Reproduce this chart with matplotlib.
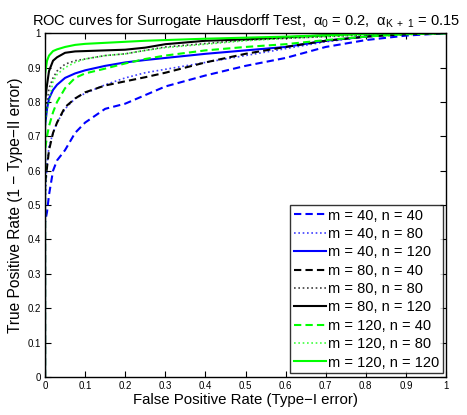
import matplotlib
matplotlib.use("Agg")
import matplotlib.pyplot as plt
import numpy as np

plt.rcParams['font.family'] = ['Liberation Sans', 'DejaVu Sans']
plt.rcParams['mathtext.fontset'] = 'custom'
plt.rcParams['mathtext.rm'] = 'Liberation Sans'
plt.rcParams['mathtext.it'] = 'Liberation Sans'
plt.rcParams['mathtext.bf'] = 'Liberation Sans:bold'

# False positive rate grid shared by all curves
fpr = [0, 0, 0.005, 0.01, 0.02, 0.03, 0.05, 0.075, 0.1, 0.15, 0.2, 0.25,
       0.3, 0.4, 0.5, 0.6, 0.7, 0.8, 0.9, 1.0]

# True positive rates for each (m, n) configuration
tpr_m40_n40 = [0, 0.45, 0.48, 0.53, 0.60, 0.63, 0.66, 0.71, 0.74, 0.78, 0.795, 0.82,
               0.845, 0.877, 0.905, 0.928, 0.96, 0.98, 0.993, 1.0]
tpr_m40_n80 = [0, 0.50, 0.62, 0.67, 0.71, 0.74, 0.78, 0.81, 0.825, 0.85, 0.87, 0.885,
               0.895, 0.915, 0.935, 0.955, 0.975, 0.99, 0.998, 1.0]
tpr_m40_n120 = [0, 0.73, 0.78, 0.81, 0.835, 0.85, 0.87, 0.883, 0.892, 0.905, 0.915, 0.922,
                0.928, 0.94, 0.95, 0.96, 0.978, 0.99, 1.0, 1.0]
tpr_m80_n40 = [0, 0.56, 0.61, 0.66, 0.71, 0.74, 0.785, 0.81, 0.828, 0.848, 0.86, 0.872,
               0.885, 0.915, 0.94, 0.96, 0.978, 0.99, 0.997, 1.0]
tpr_m80_n80 = [0, 0.76, 0.80, 0.84, 0.87, 0.89, 0.91, 0.92, 0.925, 0.935, 0.94, 0.95,
               0.96, 0.97, 0.98, 0.985, 0.99, 0.995, 1.0, 1.0]
tpr_m80_n120 = [0, 0.80, 0.85, 0.89, 0.92, 0.93, 0.943, 0.947, 0.948, 0.95, 0.952, 0.958,
                0.968, 0.978, 0.982, 0.988, 0.994, 1.0, 1.0, 1.0]
tpr_m120_n40 = [0, 0.66, 0.70, 0.73, 0.77, 0.80, 0.84, 0.87, 0.883, 0.897, 0.912, 0.925,
                0.935, 0.95, 0.96, 0.968, 0.98, 0.99, 0.997, 1.0]
tpr_m120_n80 = [0, 0.72, 0.78, 0.80, 0.86, 0.88, 0.90, 0.915, 0.925, 0.935, 0.94, 0.95,
                0.958, 0.968, 0.978, 0.985, 0.99, 0.996, 1.0, 1.0]
tpr_m120_n120 = [0, 0.88, 0.92, 0.935, 0.948, 0.953, 0.96, 0.966, 0.969, 0.972, 0.975, 0.978,
                 0.98, 0.984, 0.987, 0.99, 0.994, 0.998, 1.0, 1.0]

labels = ['m = 40, n = 40', 'm = 40, n = 80', 'm = 40, n = 120',
          'm = 80, n = 40', 'm = 80, n = 80', 'm = 80, n = 120',
          'm = 120, n = 40', 'm = 120, n = 80', 'm = 120, n = 120']
series = [tpr_m40_n40, tpr_m40_n80, tpr_m40_n120,
          tpr_m80_n40, tpr_m80_n80, tpr_m80_n120,
          tpr_m120_n40, tpr_m120_n80, tpr_m120_n120]
colors = ['#0000ff'] * 3 + ['#000000'] * 3 + ['#00ff00'] * 3
styles = ['dashed', 'dotted', 'solid'] * 3

fig = plt.figure(figsize=(4.67, 4.15), dpi=100)
ax = fig.add_axes([0.0964, 0.0916, 0.8586, 0.8284])

for y, lab, c, ls in zip(series, labels, colors, styles):
    if ls == 'dashed':
        ax.plot(fpr, y, color=c, lw=1.5, linestyle=(0, (3.5, 2.0)), label=lab)
    elif ls == 'dotted':
        ax.plot(fpr, y, color=c, lw=1.2, linestyle=(0, (1, 1.6)), label=lab, alpha=0.75)
    else:
        ax.plot(fpr, y, color=c, lw=1.5, linestyle='-', label=lab)

ticks = np.round(np.arange(0, 1.01, 0.1), 1)
ticklabels = ['0'] + [f'{t:.1f}' for t in ticks[1:-1]] + ['1']
ax.set_xlim(0, 1)
ax.set_ylim(0, 1)
ax.set_xticks(ticks)
ax.set_yticks(ticks)
ax.set_xticklabels(ticklabels)
ax.set_yticklabels(ticklabels)
ax.tick_params(direction='in', top=True, right=True, length=4, width=0.8,
               labelsize=7, pad=3)
for s in ax.spines.values():
    s.set_linewidth(1.0)

ax.set_xlabel('False Positive Rate (Type\u2212I error)', fontsize=10.8, labelpad=1)
ax.set_ylabel('True Positive Rate (1 \u2212 Type\u2212II error)', fontsize=11.2, labelpad=3)
ax.set_title(r'ROC curves for Surrogate Hausdorff Test,  $\alpha_{0}$ = 0.2,  $\alpha_{\mathrm{K\ +\ 1}}$ = 0.15',
             fontsize=10.5, pad=6)

leg = ax.legend(loc='lower right', bbox_to_anchor=(0.993, 0.011), borderaxespad=0,
                fontsize=10.5, frameon=True, fancybox=False, handlelength=2.2,
                handletextpad=0.15, labelspacing=0.3, borderpad=0.25)
leg.get_frame().set_edgecolor('black')
leg.get_frame().set_linewidth(1.0)

fig.savefig('out.png', dpi=100)
